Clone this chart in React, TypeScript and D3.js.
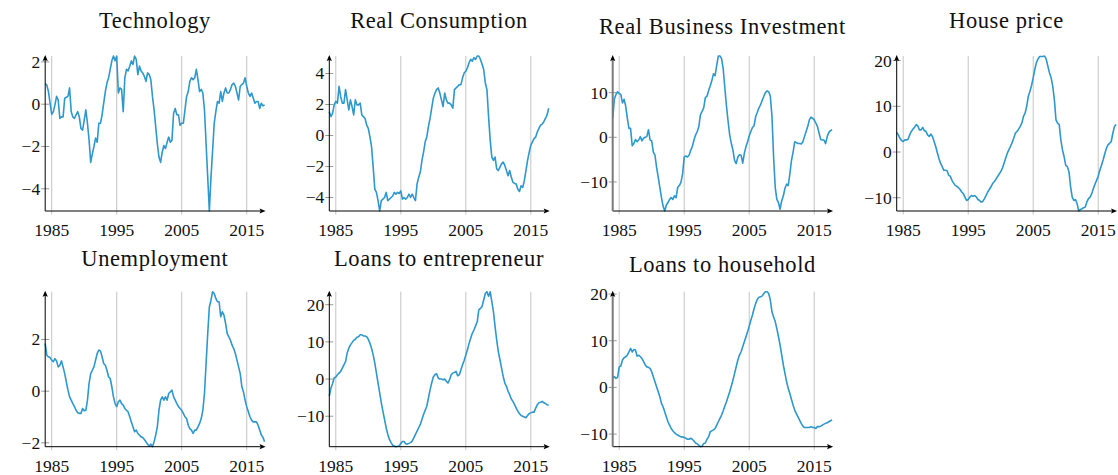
import React from "react";
import * as d3 from "d3";

// Quarterly observations, 1984Q1 .. 2017Q4
const START_YEAR = 1984;

const technology = [
  0.97, 0.9, 0.6, 0.05,
  -0.48, -0.35, -0.03, 0.37,
  0.2, -0.67, -0.6, -0.6,
  0.27, 0.33, 0.37, 0.77,
  -0.35, -0.6, -0.67, -0.5,
  -0.35, -0.6, -1.15, -1.23,
  -0.75, -0.27, -0.9, -1.7,
  -2.75, -2.35, -2.0, -1.6,
  -1.8, -0.9, -0.9, -0.5,
  0.05, 0.6, 1.0, 1.25,
  1.65, 2.05, 2.28, 2.05,
  2.28, 0.53, 0.77, 0.7,
  -0.35, 1.25, 1.65, 1.57,
  1.8, 2.05, 1.88, 2.28,
  2.12, 1.4, 1.8, 1.57,
  1.48, 1.32, 1.08, 1.48,
  1.4, 1.16, 0.37, -0.27,
  -1.07, -1.87, -2.5, -2.75,
  -2.27, -1.95, -2.1, -1.8,
  -1.55, -1.8, -1.7, -0.43,
  -0.2, -0.5, -0.5, -1.0,
  -0.9, -0.9, -0.27, 0.37,
  0.6, 1.08, 1.25, 1.16,
  1.25, 1.65, 1.16, 0.6,
  0.7, 0.53, -0.27, -1.87,
  -3.46, -5.05, -3.46, -2.2,
  -0.9, -0.35, 0.13, 0.05,
  0.6, 0.13, 0.53, 0.77,
  0.53, 0.53, 0.7, 0.93,
  1.0, 0.85, 0.53, 0.2,
  0.85, 0.93, 1.0, 1.25,
  0.85, 0.53, 0.37, 0.53,
  0.29, 0.05, 0.13, 0.13,
  -0.2, 0.05, -0.08, -0.03,
];

const realConsumption = [
  1.54, 1.22, 1.43, 1.98,
  2.2, 2.09, 3.17, 2.52,
  2.09, 2.09, 2.96, 2.3,
  1.65, 2.3, 1.87, 1.33,
  2.3, 1.98, 1.98, 2.09,
  1.33, 1.22, 1.1, 0.67,
  0.46, -0.09, -0.74, -2.04,
  -3.46, -3.67, -4.2, -4.87,
  -4.2, -4.1, -4.0, -3.67,
  -4.2, -4.1, -4.0, -3.9,
  -3.67, -3.78, -3.67, -3.74,
  -3.57, -4.1, -4.0, -4.1,
  -4.0, -3.78, -4.0, -3.78,
  -4.0, -4.2, -3.13, -2.7,
  -2.37, -1.6, -1.07, -0.41,
  -0.09, 0.57, 1.1, 1.76,
  2.41, 2.74, 2.96, 3.07,
  2.74, 2.3, 1.87, 2.74,
  2.3, 2.09, 2.09, 1.98,
  1.76, 2.96, 3.07, 3.17,
  3.28, 3.28, 3.72, 4.04,
  4.15, 4.37, 4.7, 4.91,
  4.8, 5.02, 4.91, 5.13,
  5.13, 4.91, 4.59, 4.26,
  3.39, 2.96, 1.22, -0.3,
  -1.39, -1.6, -1.39, -2.15,
  -2.26, -2.04, -1.83, -1.72,
  -1.93, -2.26, -2.59, -2.26,
  -2.7, -3.02, -3.09, -3.13,
  -3.46, -3.61, -3.24, -3.35,
  -2.91, -2.26, -1.6, -1.07,
  -0.63, -0.41, -0.2, -0.09,
  0.24, 0.46, 0.67, 0.74,
  0.89, 1.1, 1.33, 1.76,
];

const realBusinessInvestment = [
  4.3, 8.5, 9.6, 10.2,
  9.8, 9.6, 7.7, 8.5,
  7.0, 4.3, 2.0, 2.0,
  -1.9, -1.4, -0.5, -1.0,
  -0.6, 0.15, -0.8, -0.2,
  0.0, 0.15, 1.7, -0.6,
  -0.8, -3.3, -4.0, -6.7,
  -8.9, -11.2, -13.5, -15.4,
  -16.5, -15.2, -14.6, -13.9,
  -13.5, -13.9, -13.1, -13.5,
  -11.2, -10.8, -10.1, -8.2,
  -4.4, -4.2, -4.4, -4.0,
  -2.9, -2.1, -0.6, 0.5,
  1.3, 2.4, 5.1, 5.8,
  6.6, 8.9, 9.2, 10.4,
  11.5, 12.7, 14.2, 13.8,
  16.1, 18.2, 18.2, 17.6,
  15.3, 11.1, 7.0, 3.6,
  0.5, -1.4, -2.9, -5.2,
  -5.9, -4.4, -3.9, -4.0,
  -5.8, -3.6, -2.1, -1.0,
  0.3, 1.3, 2.2, 2.6,
  4.7, 5.6, 6.6, 7.3,
  8.3, 9.2, 10.0, 10.4,
  10.2, 9.2, 4.7, -4.4,
  -11.2, -13.9, -14.6, -16.1,
  -14.2, -13.1, -11.4, -10.5,
  -10.8, -8.2, -5.2, -3.3,
  -1.0, -1.2, -1.4, -1.4,
  -1.5, -1.0, 0.15, 1.3,
  2.4, 3.9, 4.5, 4.3,
  3.9, 3.2, 2.4, 0.9,
  -0.5, -0.6, -0.6, -1.4,
  0.15, 1.1, 1.5, 1.7,
];

const housePrice = [
  4.3, 3.75, 3.0, 2.5,
  2.3, 2.65, 2.65, 2.8,
  3.75, 4.5, 5.0, 5.4,
  6.0, 5.7, 4.85, 4.85,
  5.4, 4.7, 4.5, 3.75,
  3.4, 3.9, 3.4, 2.3,
  1.2, -0.15, -1.4, -2.5,
  -3.2, -4.0, -4.0, -4.1,
  -5.1, -5.3, -6.2, -6.8,
  -7.3, -7.5, -7.8, -8.2,
  -8.75, -9.1, -9.85, -10.6,
  -10.4, -9.85, -9.5, -9.7,
  -9.5, -9.85, -10.4, -10.6,
  -10.95, -10.8, -10.2, -9.5,
  -8.75, -8.2, -7.6, -6.9,
  -6.5, -6.0, -5.4, -4.85,
  -4.3, -3.6, -2.5, -1.4,
  -0.3, 0.45, 1.2, 2.05,
  3.0, 4.1, 4.5, 5.0,
  5.6, 6.3, 7.8, 8.5,
  10.0, 12.2, 13.3, 14.6,
  16.25, 18.1, 19.6, 20.4,
  20.9, 20.9, 20.9, 21.0,
  20.3, 18.8, 17.35, 16.25,
  14.4, 11.5, 7.05, 6.3,
  6.0, 2.65, 0.45, -1.0,
  -2.9, -3.2, -4.3, -7.6,
  -9.85, -10.6, -10.4, -11.3,
  -12.9, -12.6, -12.4, -12.2,
  -12.05, -10.95, -10.2, -9.85,
  -9.1, -8.0, -7.05, -6.2,
  -5.3, -4.0, -2.9, -1.75,
  -0.45, 0.8, 1.55, 1.9,
  2.3, 4.1, 5.6, 6.0,
];

const unemployment = [
  1.85, 1.39, 1.33, 1.3,
  1.2, 1.14, 1.26, 1.17,
  0.94, 1.0, 1.17, 0.94,
  0.68, 0.36, 0.04, -0.22,
  -0.35, -0.48, -0.6, -0.74,
  -0.84, -0.86, -0.86, -0.67,
  -0.76, -0.74, -0.35, 0.3,
  0.68, 0.81, 0.94, 1.2,
  1.46, 1.59, 1.56, 1.33,
  1.07, 1.0, 0.81, 0.55,
  0.49, 0.17, -0.22, -0.48,
  -0.6, -0.41, -0.35, -0.48,
  -0.54, -0.67, -0.74, -0.8,
  -0.99, -1.19, -1.38, -1.57,
  -1.51, -1.64, -1.7, -1.77,
  -1.79, -1.87, -1.96, -2.05,
  -2.13, -2.05, -2.15, -1.96,
  -1.7, -1.38, -0.74, -0.35,
  -0.22, -0.35, -0.22, -0.35,
  -0.09, -0.03, 0.04, -0.22,
  -0.35, -0.48, -0.6, -0.67,
  -0.74, -0.86, -0.99, -1.06,
  -1.32, -1.45, -1.51, -1.64,
  -1.51, -1.51, -1.38, -1.25,
  -1.06, -0.74, -0.09, 1.07,
  2.23, 3.26, 3.52, 3.85,
  3.78, 3.59, 3.46, 3.46,
  2.88, 3.07, 2.94, 2.62,
  2.23, 2.1, 1.97, 1.78,
  1.65, 1.46, 1.2, 0.94,
  0.68, 0.17, -0.03, -0.35,
  -0.6, -0.8, -0.99, -1.12,
  -1.19, -1.19, -1.19, -1.32,
  -1.51, -1.7, -1.79, -1.96,
];

const loansEntrepreneur = [
  -4.6, -2.4, -1.25, 0.27,
  0.54, 1.16, 1.6, 2.05,
  2.95, 3.84, 4.7, 7.0,
  8.3, 9.2, 9.8, 10.4,
  10.7, 11.25, 11.4, 11.9,
  11.9, 11.6, 11.6, 11.4,
  10.7, 9.6, 8.3, 6.5,
  4.3, 1.6, -1.07, -3.75,
  -6.4, -8.7, -10.9, -13.1,
  -14.9, -16.25, -17.1, -17.8,
  -18.0, -18.2, -18.1, -18.0,
  -17.3, -16.8, -16.8, -17.4,
  -17.5, -17.3, -17.1, -16.7,
  -15.8, -14.9, -14.0, -13.1,
  -12.2, -10.9, -9.55, -8.4,
  -7.3, -5.1, -2.9, -1.07,
  0.54, 1.16, 1.43, 0.27,
  0.0, 0.0, -0.18, 0.0,
  -0.6, -1.07, -0.18, 1.16,
  1.6, 1.8, 2.05, 0.9,
  1.16, 2.5, 3.84, 5.0,
  6.5, 7.86, 9.6, 11.0,
  12.3, 13.2, 14.3, 15.4,
  18.6, 19.0, 19.5, 21.25,
  23.0, 23.5, 22.3, 23.5,
  20.8, 18.1, 14.1, 10.5,
  7.4, 5.2, 2.95, 0.7,
  -1.07, -1.96, -3.3, -4.2,
  -5.36, -6.0, -6.9, -7.8,
  -8.66, -9.3, -9.8, -10.0,
  -10.2, -10.4, -9.8, -9.3,
  -9.1, -8.9, -8.9, -7.8,
  -6.9, -6.4, -6.25, -6.0,
  -6.4, -6.6, -6.9, -7.05,
];

const loansHousehold = [
  2.07, 2.3, 1.93, 2.14,
  4.4, 4.6, 5.86, 6.36,
  6.57, 6.9, 7.6, 8.36,
  7.6, 8.1, 8.0, 6.7,
  6.9, 6.57, 6.2, 5.5,
  4.8, 4.4, 4.3, 4.07,
  3.36, 2.3, 1.2, 0.14,
  -0.93, -2.0, -3.43, -4.14,
  -5.2, -6.3, -7.36, -8.07,
  -8.8, -9.3, -9.7, -10.0,
  -10.2, -10.4, -10.6, -10.6,
  -10.7, -10.9, -11.1, -11.1,
  -10.9, -11.1, -11.5, -11.9,
  -12.1, -12.4, -12.7, -12.6,
  -12.0, -11.9, -11.1, -10.6,
  -9.5, -9.3, -9.1, -8.8,
  -8.07, -7.36, -6.64, -5.93,
  -5.0, -4.0, -3.07, -2.0,
  -0.93, 0.29, 1.57, 3.0,
  4.43, 5.86, 6.93, 7.64,
  8.7, 9.8, 10.86, 11.9,
  13.1, 14.4, 15.5, 16.9,
  18.0, 18.9, 19.3, 19.4,
  19.6, 20.1, 20.5, 20.5,
  20.1, 18.7, 16.2, 15.1,
  14.1, 12.6, 10.9, 9.07,
  6.93, 4.8, 3.0, 1.2,
  -0.2, -1.3, -2.6, -3.8,
  -4.86, -5.6, -6.3, -7.0,
  -7.7, -8.3, -8.6, -8.6,
  -8.6, -8.6, -8.4, -8.6,
  -8.6, -8.8, -8.4, -8.4,
  -8.3, -8.07, -7.86, -7.7,
  -7.57, -7.36, -7.14, -7.0,
];

const titles = [
  "Technology",
  "Real Consumption",
  "Real Business Investment",
  "House price",
  "Unemployment",
  "Loans to entrepreneur",
  "Loans to household",
];
const seriesList = [
  technology,
  realConsumption,
  realBusinessInvestment,
  housePrice,
  unemployment,
  loansEntrepreneur,
  loansHousehold,
];
const yTicksList = [
  [-4, -2, 0, 2],
  [-4, -2, 0, 2, 4],
  [-10, 0, 10],
  [-10, 0, 10, 20],
  [-2, 0, 2],
  [-10, 0, 10, 20],
  [-10, 0, 10, 20],
];
const xTicks = [1985, 1995, 2005, 2015];

// layout
const W = 1118;
const H = 475;
const colX = [45.2, 329.3, 612.7, 896.7];
const rowTop = [56, 291.7];
const plotW = 219.4;
const plotH = 155;
const LINE = "#2e98cc";
const GRID = "#c4c4c4";
const FONT = "Liberation Serif, Times New Roman, serif";
const textStyle = { fontFamily: FONT };

function Panel({ idx }: { idx: number }) {
  const data = seriesList[idx];
  const col = idx % 4;
  const row = Math.floor(idx / 4);
  const x0 = colX[col];
  const top = rowTop[row];
  const bottom = top + plotH;
  const pts = data.map((v, i) => ({ t: START_YEAR + i / 4, v }));
  const x = d3
    .scaleLinear()
    .domain([START_YEAR, START_YEAR + (data.length - 1) / 4])
    .range([x0, x0 + plotW]);
  const ext = d3.extent(data) as [number, number];
  const y = d3.scaleLinear().domain(ext).range([bottom, top]);
  const line = d3
    .line<{ t: number; v: number }>()
    .x((d) => x(d.t))
    .y((d) => y(d.v));
  const right = x0 + plotW;
  const titleY = (row === 0 ? 28 : 265.5) + (col === 2 ? 6 : 0);
  const grayAxis = col === 2;
  return (
    <g>
      <text
        x={x0 + plotW / 2}
        y={titleY}
        textAnchor="middle"
        style={textStyle}
        fontSize={22.5}
        letterSpacing={0.6}
        fill="#111"
      >
        {titles[idx]}
      </text>
      {xTicks.map((t) => (
        <g key={t}>
          <line x1={x(t)} x2={x(t)} y1={top} y2={bottom + 3.5} stroke={GRID} strokeWidth={1} />
          <text
            x={x(t)}
            y={bottom + 25}
            textAnchor="middle"
            style={textStyle}
            fontSize={17.5}
            fill="#111"
          >
            {t}
          </text>
        </g>
      ))}
      {yTicksList[idx].map((t) => (
        <g key={t}>
          <line x1={x0 - 4} x2={x0 + 4} y1={y(t)} y2={y(t)} stroke="#999" strokeWidth={1} />
          <text
            x={x0 - 5}
            y={y(t)}
            dy="0.34em"
            textAnchor="end"
            style={textStyle}
            fontSize={17.5}
            fill="#111"
          >
            {t < 0 ? "\u2212" + Math.abs(t) : String(t)}
          </text>
        </g>
      ))}
      <path d={line(pts) || ""} fill="none" stroke={LINE} strokeWidth={1.6} strokeLinejoin="round" />
      {/* axes */}
      <line x1={x0} x2={right - 4} y1={bottom} y2={bottom} stroke="#000" strokeWidth={1} />
      <path d={`M${right + 1},${bottom} L${right - 5},${bottom - 2.6} L${right - 4},${bottom} L${right - 5},${bottom + 2.6} Z`} fill="#000" />
      <line
        x1={x0}
        x2={x0}
        y1={bottom}
        y2={top + 4}
        stroke={grayAxis ? "#7a7a7a" : "#000"}
        strokeWidth={grayAxis ? 2 : 1}
      />
      <path d={`M${x0},${top - 1} L${x0 - 2.6},${top + 5} L${x0},${top + 4} L${x0 + 2.6},${top + 5} Z`} fill="#000" />
    </g>
  );
}

export default function App() {
  return (
    <svg
      width={W}
      height={H}
      viewBox={`0 0 ${W} ${H}`}
      style={{ position: "absolute", left: 0, top: 0, background: "#fff" }}
    >
      <rect width={W} height={H} fill="#fff" />
      {titles.map((_, i) => (
        <Panel key={i} idx={i} />
      ))}
    </svg>
  );
}
